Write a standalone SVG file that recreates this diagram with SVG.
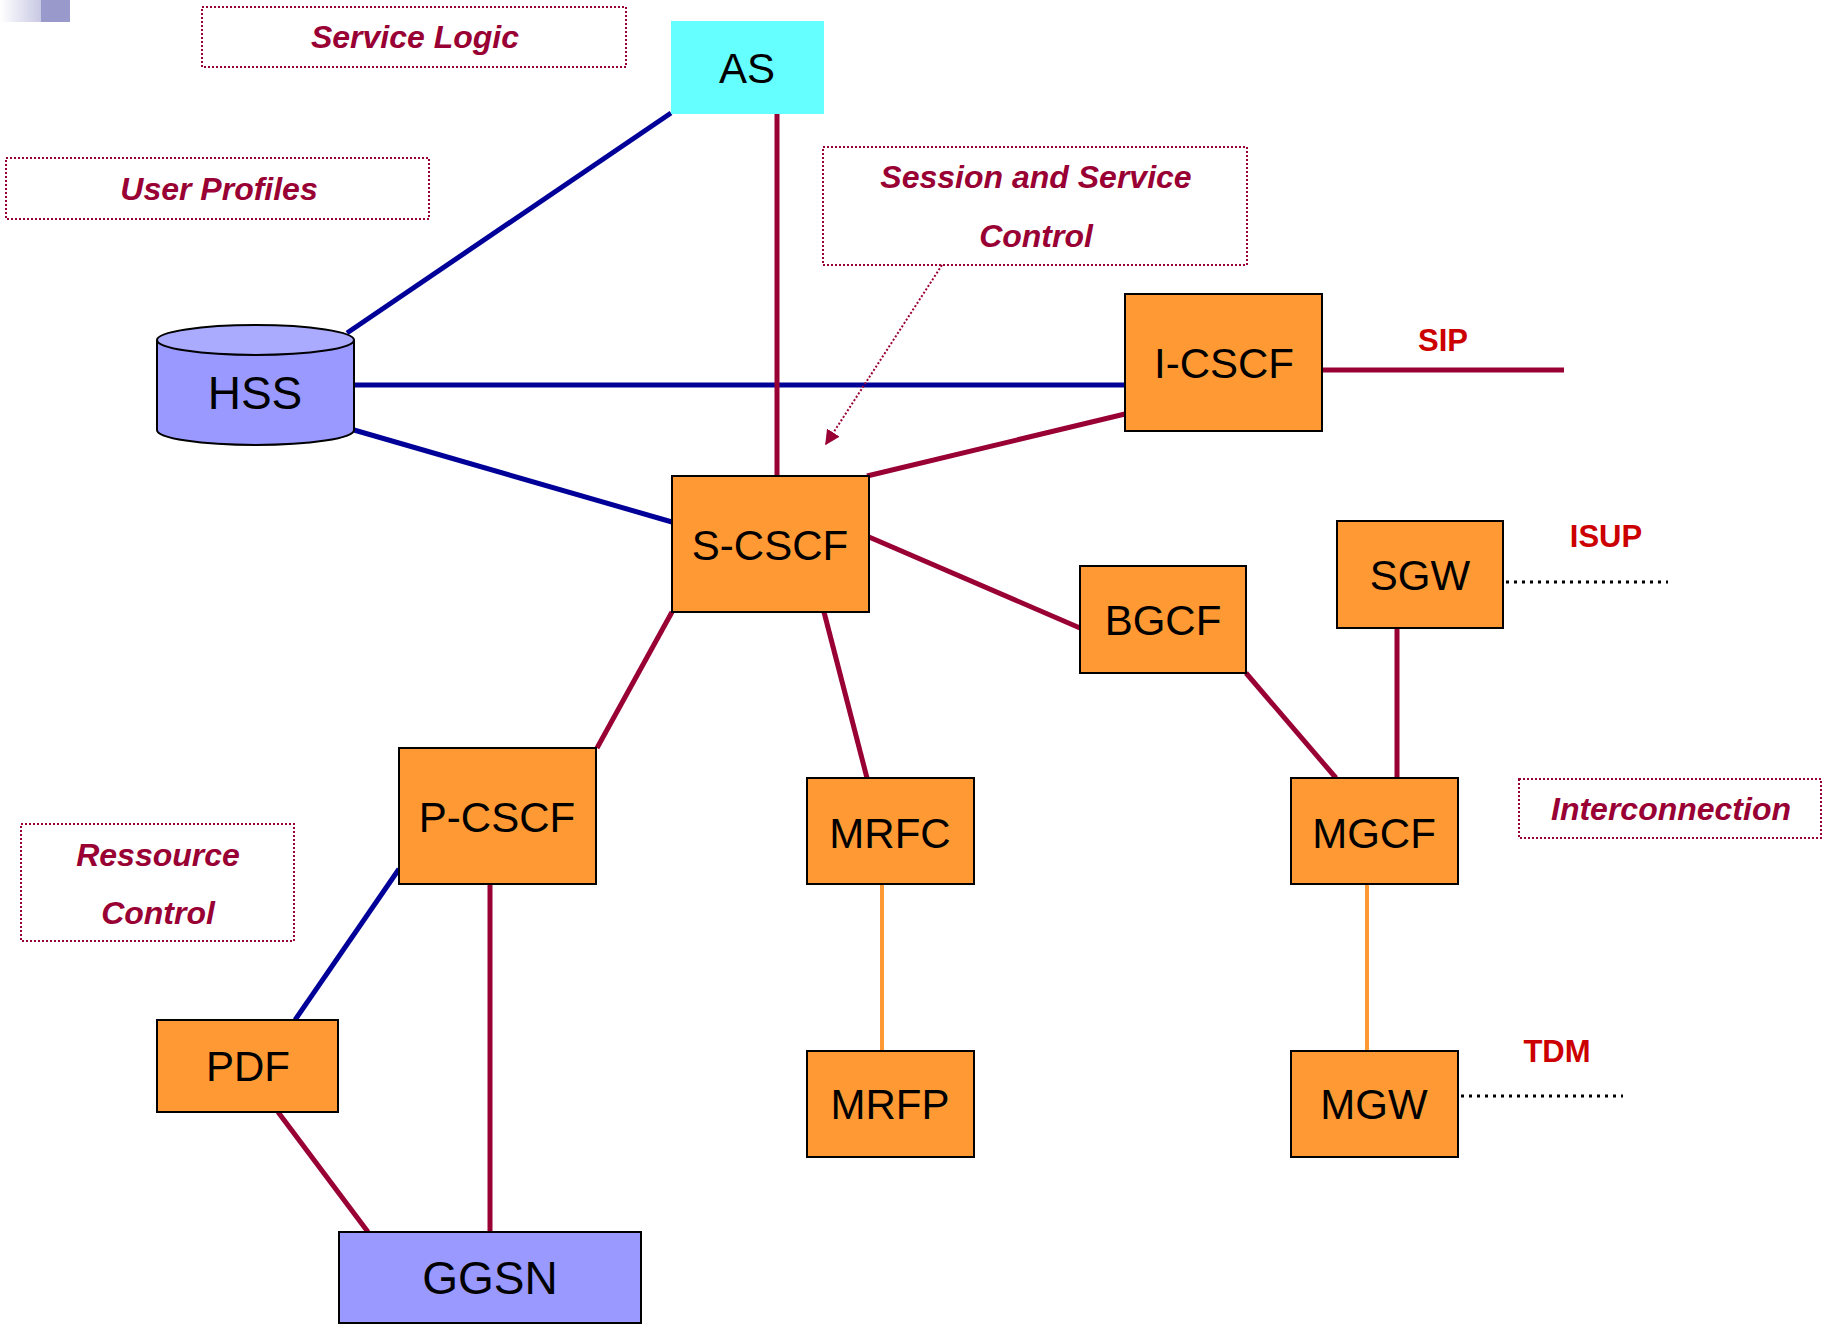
<svg xmlns="http://www.w3.org/2000/svg" width="1831" height="1326" viewBox="0 0 1831 1326">
<style>
.node{fill:#ff9933;stroke:#000;stroke-width:2}
.blue{fill:#9999ff;stroke:#000;stroke-width:2}
.nt{font-family:"Liberation Sans",Arial,sans-serif;font-size:42px;fill:#000;text-anchor:middle}
.big{font-size:46px}
.ann{fill:none;stroke:#990033;stroke-width:2;stroke-dasharray:2 2}
.at{font-family:"Liberation Sans",Arial,sans-serif;font-size:32px;font-weight:bold;font-style:italic;fill:#990033;text-anchor:middle}
.lbl{font-family:"Liberation Sans",Arial,sans-serif;font-size:31px;font-weight:bold;fill:#cc0000;text-anchor:middle}
.m{stroke:#990033;stroke-width:5;fill:none}
.b{stroke:#000099;stroke-width:5;fill:none}
.o{stroke:#ff9933;stroke-width:4;fill:none}
.dot{stroke:#000;stroke-width:3;stroke-dasharray:3 5;fill:none}
</style>
<defs>
<linearGradient id="g" x1="0" y1="0" x2="1" y2="0">
<stop offset="0" stop-color="#ffffff"/>
<stop offset="1" stop-color="#c8c8e4"/>
</linearGradient>
<marker id="ah" viewBox="0 0 10 10" refX="9" refY="5" markerWidth="7.5" markerHeight="7.5" orient="auto" markerUnits="strokeWidth">
<path d="M0,0 L10,5 L0,10 z" fill="#990033"/>
</marker>
</defs>
<rect x="0" y="0" width="41" height="22" fill="url(#g)"/>
<rect x="41" y="0" width="29" height="22" fill="#9999cc"/>

<g id="connectors">
<line class="b" x1="347" y1="333" x2="671" y2="113"/>
<line class="b" x1="354" y1="385" x2="1125" y2="385"/>
<line class="b" x1="354" y1="430" x2="672" y2="522"/>
<line class="m" x1="777" y1="114" x2="777" y2="476"/>
<line class="m" x1="867" y1="476" x2="1125" y2="414"/>
<line class="m" x1="1322" y1="370" x2="1564" y2="370"/>
<line class="m" x1="869" y1="537" x2="1080" y2="628"/>
<line class="m" x1="1246" y1="673" x2="1336" y2="778"/>
<line class="m" x1="1397" y1="628" x2="1397" y2="778"/>
<line class="m" x1="672" y1="612" x2="597" y2="748"/>
<line class="m" x1="824" y1="612" x2="867" y2="778"/>
<line class="b" x1="399" y1="869" x2="295" y2="1020"/>
<line class="m" x1="278" y1="1112" x2="368" y2="1232"/>
<line class="m" x1="490" y1="884" x2="490" y2="1232"/>
<line class="o" x1="882" y1="884" x2="882" y2="1051"/>
<line class="o" x1="1367" y1="884" x2="1367" y2="1051"/>
<line class="dot" x1="1506" y1="582" x2="1668" y2="582"/>
<line class="dot" x1="1461" y1="1096" x2="1623" y2="1096"/>
<line x1="942" y1="265" x2="826" y2="444" stroke="#990033" stroke-width="2" stroke-dasharray="2 2" marker-end="url(#ah)"/>
</g>

<g id="annotations">
<rect class="ann" x="202" y="7" width="424" height="60"/>
<text class="at" x="415" y="48">Service Logic</text>
<rect class="ann" x="6" y="158" width="423" height="61"/>
<text class="at" x="219" y="200">User Profiles</text>
<rect class="ann" x="823" y="147" width="424" height="118"/>
<text class="at" x="1036" y="188">Session and Service</text>
<text class="at" x="1036" y="247">Control</text>
<rect class="ann" x="21" y="824" width="273" height="117"/>
<text class="at" x="158" y="866">Ressource</text>
<text class="at" x="158" y="924">Control</text>
<rect class="ann" x="1519" y="779" width="302" height="59"/>
<text class="at" x="1671" y="820">Interconnection</text>
<text class="lbl" x="1443" y="351">SIP</text>
<text class="lbl" x="1606" y="547">ISUP</text>
<text class="lbl" x="1557" y="1062">TDM</text>
</g>

<g id="AS">
<rect x="671" y="21" width="153" height="93" fill="#66ffff"/>
<text class="nt" x="747" y="83">AS</text>
</g>
<g id="HSS">
<path d="M157,340 L157,430 A98.5,15 0 0 0 354,430 L354,340" fill="#9999ff" stroke="#000" stroke-width="2"/>
<ellipse cx="255.5" cy="340" rx="98.5" ry="15" fill="#aaaaff" stroke="#000" stroke-width="2"/>
<text class="nt big" x="255" y="409">HSS</text>
</g>
<g id="I-CSCF">
<rect class="node" x="1125" y="294" width="197" height="137"/>
<text class="nt" x="1224" y="378">I-CSCF</text>
</g>
<g id="S-CSCF">
<rect class="node" x="672" y="476" width="197" height="136"/>
<text class="nt" x="770" y="560">S-CSCF</text>
</g>
<g id="BGCF">
<rect class="node" x="1080" y="566" width="166" height="107"/>
<text class="nt" x="1163" y="635">BGCF</text>
</g>
<g id="SGW">
<rect class="node" x="1337" y="521" width="166" height="107"/>
<text class="nt" x="1420" y="590">SGW</text>
</g>
<g id="P-CSCF">
<rect class="node" x="399" y="748" width="197" height="136"/>
<text class="nt" x="497" y="832">P-CSCF</text>
</g>
<g id="MRFC">
<rect class="node" x="807" y="778" width="167" height="106"/>
<text class="nt" x="890" y="848">MRFC</text>
</g>
<g id="MGCF">
<rect class="node" x="1291" y="778" width="167" height="106"/>
<text class="nt" x="1374" y="848">MGCF</text>
</g>
<g id="PDF">
<rect class="node" x="157" y="1020" width="181" height="92"/>
<text class="nt" x="248" y="1081">PDF</text>
</g>
<g id="MRFP">
<rect class="node" x="807" y="1051" width="167" height="106"/>
<text class="nt" x="890" y="1119">MRFP</text>
</g>
<g id="MGW">
<rect class="node" x="1291" y="1051" width="167" height="106"/>
<text class="nt" x="1374" y="1119">MGW</text>
</g>
<g id="GGSN">
<rect class="blue" x="339" y="1232" width="302" height="91"/>
<text class="nt big" x="490" y="1294">GGSN</text>
</g>
</svg>
